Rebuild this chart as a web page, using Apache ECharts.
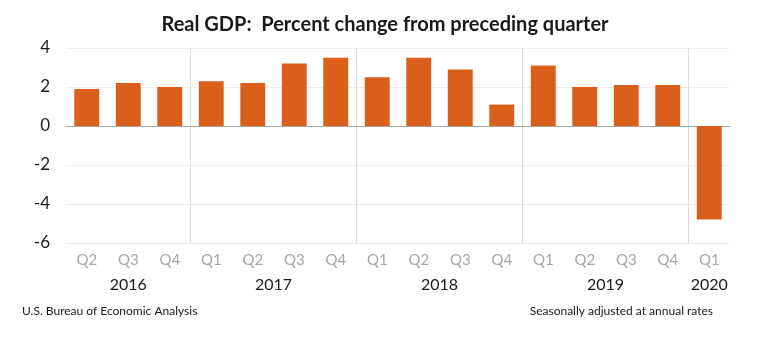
<!DOCTYPE html>
<html>
<head>
<meta charset="utf-8">
<script src="https://cdn.jsdelivr.net/npm/echarts@6/dist/echarts.min.js"></script>
<style>
  html, body { margin: 0; padding: 0; background: #ffffff; }
  #chart { width: 784px; height: 341px; }
</style>
</head>
<body>
<div id="chart"></div>
<script>
// Quarterly real GDP growth, percent change from preceding quarter (SAAR)
const quarterKeys = ['2016 Q2','2016 Q3','2016 Q4',
                     '2017 Q1','2017 Q2','2017 Q3','2017 Q4',
                     '2018 Q1','2018 Q2','2018 Q3','2018 Q4',
                     '2019 Q1','2019 Q2','2019 Q3','2019 Q4',
                     '2020 Q1'];
const gdpChange = [1.9, 2.2, 2.0,
                   2.3, 2.2, 3.2, 3.5,
                   2.5, 3.5, 2.9, 1.1,
                   3.1, 2.0, 2.1, 2.1,
                   -4.8];
const years = ['2016', '2017', '2018', '2019', '2020'];
const quartersPerYear = [3, 4, 4, 4, 1];
const yMin = -6, yMax = 4, yStep = 2;

// Year boundaries (category index where each new year starts) and year label centres
const yearStarts = [];
const yearCentres = [];
let acc = 0;
quartersPerYear.forEach(function (n, i) {
  if (i > 0) yearStarts.push(acc);
  yearCentres.push(acc + n / 2);
  acc += n;
});

const FONT = 'Lato';
const chart = echarts.init(document.getElementById('chart'), null, { renderer: 'canvas' });

chart.setOption({
  animation: false,
  backgroundColor: '#ffffff',
  title: [
    {
      text: 'Real GDP:  Percent change from preceding quarter',
      left: 380, top: 10, textAlign: 'center',
      textStyle: { fontFamily: FONT, fontSize: 20, fontWeight: 'bold', color: '#1a1a1a' }
    },
    {
      text: 'U.S. Bureau of Economic Analysis',
      left: 17, top: 300,
      textStyle: { fontFamily: FONT, fontSize: 12, fontWeight: 'normal', color: '#1a1a1a' }
    },
    {
      text: 'Seasonally adjusted at annual rates',
      right: 66, top: 300,
      textStyle: { fontFamily: FONT, fontSize: 12, fontWeight: 'normal', color: '#1a1a1a' }
    }
  ],
  grid: { left: 66, right: 54, top: 48, bottom: 98, containLabel: false },
  xAxis: [
    {
      type: 'category',
      data: quarterKeys,
      position: 'bottom',
      axisLine: { show: true, onZero: true, lineStyle: { color: '#a6a6a6', width: 1 } },
      axisTick: { show: false },
      splitLine: { show: false },
      axisLabel: {
        interval: 0,
        margin: 10,
        color: '#a6a6a6',
        fontFamily: FONT,
        fontSize: 15,
        formatter: function (v) { return v.split(' ')[1]; }
      }
    },
    {
      // Companion axis over the same span: year labels and year separators
      type: 'value',
      min: 0,
      max: quarterKeys.length,
      position: 'bottom',
      axisLine: { show: false },
      axisTick: { show: false, customValues: yearStarts },
      splitLine: { show: true, lineStyle: { color: '#d9d9d9', width: 1 } },
      axisLabel: {
        customValues: yearCentres,
        margin: 34,
        color: '#1a1a1a',
        fontFamily: FONT,
        fontSize: 16,
        formatter: function (v) {
          const i = yearCentres.indexOf(v);
          return i >= 0 ? years[i] : '';
        }
      }
    }
  ],
  yAxis: {
    type: 'value',
    min: yMin,
    max: yMax,
    interval: yStep,
    axisLine: { show: false },
    axisTick: { show: false },
    splitLine: { show: true, lineStyle: { color: '#ededed', width: 1 } },
    axisLabel: { margin: 16, color: '#1a1a1a', fontFamily: FONT, fontSize: 17 }
  },
  series: [
    {
      type: 'bar',
      xAxisIndex: 0,
      data: gdpChange,
      barWidth: '60%',
      itemStyle: { color: '#d95f1b' }
    }
  ]
});
</script>
</body>
</html>
